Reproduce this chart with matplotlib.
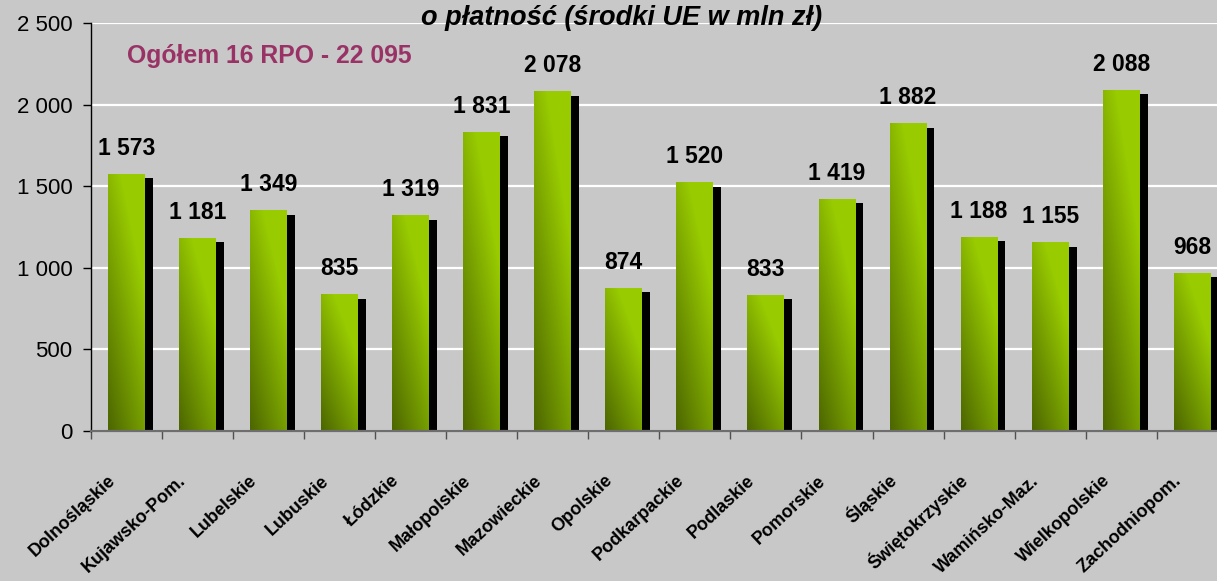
import numpy as np
import matplotlib
matplotlib.use("Agg")
import matplotlib.pyplot as plt
from matplotlib.transforms import ScaledTranslation
from matplotlib.ticker import FuncFormatter

plt.rcParams['font.family'] = ['Liberation Sans', 'DejaVu Sans']

# data
regions = ["Dolnośląskie", "Kujawsko-Pom.", "Lubelskie", "Lubuskie", "Łódzkie",
           "Małopolskie", "Mazowieckie", "Opolskie", "Podkarpackie", "Podlaskie",
           "Pomorskie", "Śląskie", "Świętokrzyskie", "Wamińsko-Maz.",
           "Wielkopolskie", "Zachodniopom."]
values = [1573, 1181, 1349, 835, 1319, 1831, 2078, 874, 1520, 833,
          1419, 1882, 1188, 1155, 2088, 968]
total_label = "Ogółem 16 RPO - 22 095"
title = "o płatność (środki UE w mln zł)"

BG = "#c8c8c8"
DARK = np.array([0x4c, 0x66, 0x00]) / 255
BRIGHT = np.array([0x99, 0xcc, 0x00]) / 255
BAR_W = 0.52
SHADOW_DX = 0.11     # shadow shift, category units
SHADOW_DY = 25       # shadow drop, value units


def fmt(v, _=None):
    return f"{int(v):,}".replace(",", " ")


fig = plt.figure(figsize=(12.17, 5.81), dpi=100, facecolor=BG)
ax = fig.add_axes([0.0745, 0.2582, 0.9345, 0.7022])
ax.set_facecolor(BG)

x = np.arange(len(regions))
vals = np.array(values)

# black shadow behind each bar
ax.bar(x + SHADOW_DX, vals - SHADOW_DY, width=BAR_W, color="black", zorder=2)

# green bars with diagonal gradient fill
bars = ax.bar(x, vals, width=BAR_W, color="none", edgecolor="none", zorder=3)
nu, nv = 40, 120
u = np.linspace(0, 1, nu)[None, :]
v = np.linspace(0, 1, nv)[:, None]
t = np.clip(0.55 * u + 0.8 * v, 0, 1)
img = DARK[None, None, :] + (BRIGHT - DARK)[None, None, :] * t[:, :, None]
for b in bars:
    x0, w, h = b.get_x(), b.get_width(), b.get_height()
    ax.imshow(img, extent=[x0, x0 + w, 0, h], origin="lower",
              aspect="auto", interpolation="bilinear", zorder=3)

for xi, vi in zip(x, vals):
    ax.annotate(fmt(vi), (xi, vi), xytext=(0, 14), textcoords="offset points",
                ha="center", va="baseline", fontsize=16.5, fontweight="bold",
                color="black", zorder=6)

ax.set_xlim(-0.5, len(regions) - 0.5)
ax.set_ylim(0, 2500)
ax.set_yticks(np.arange(0, 2501, 500))
ax.yaxis.set_major_formatter(FuncFormatter(fmt))
ax.yaxis.grid(True, color="white", linewidth=1.6, zorder=1)
ax.set_axisbelow(True)

ax.set_xticks(x)
ax.set_xticks(np.arange(-0.5, len(regions), 1), minor=True)
ax.set_xticklabels(regions, rotation=43, ha="right", va="baseline",
                   rotation_mode="anchor", fontsize=13, fontweight="bold")
ax.tick_params(axis="x", which="major", length=0, pad=36.5)
ax.tick_params(axis="x", which="minor", length=6, width=1, color="#505050")
ax.tick_params(axis="y", length=6, width=1, color="black", pad=7,
               labelsize=16)
shift = ScaledTranslation(-7.5 / 72, 0, fig.dpi_scale_trans)
for lab in ax.get_xticklabels():
    lab.set_transform(lab.get_transform() + shift)

for s in ("top", "right"):
    ax.spines[s].set_visible(False)
ax.spines["left"].set_color("black")
ax.spines["left"].set_linewidth(1)
ax.spines["bottom"].set_color("#6e6e6e")
ax.spines["bottom"].set_linewidth(1.6)
ax.spines["bottom"].set_zorder(5)

fig.text(0.511, 1 - 25 / 581, title, ha="center", va="baseline",
         fontsize=19.5, fontweight="bold", fontstyle="italic")
fig.text(127 / 1217, 1 - 63 / 581, total_label, ha="left", va="baseline",
         fontsize=17.8, fontweight="bold", color="#993366")

fig.savefig("out.png", dpi=100, facecolor=BG)
